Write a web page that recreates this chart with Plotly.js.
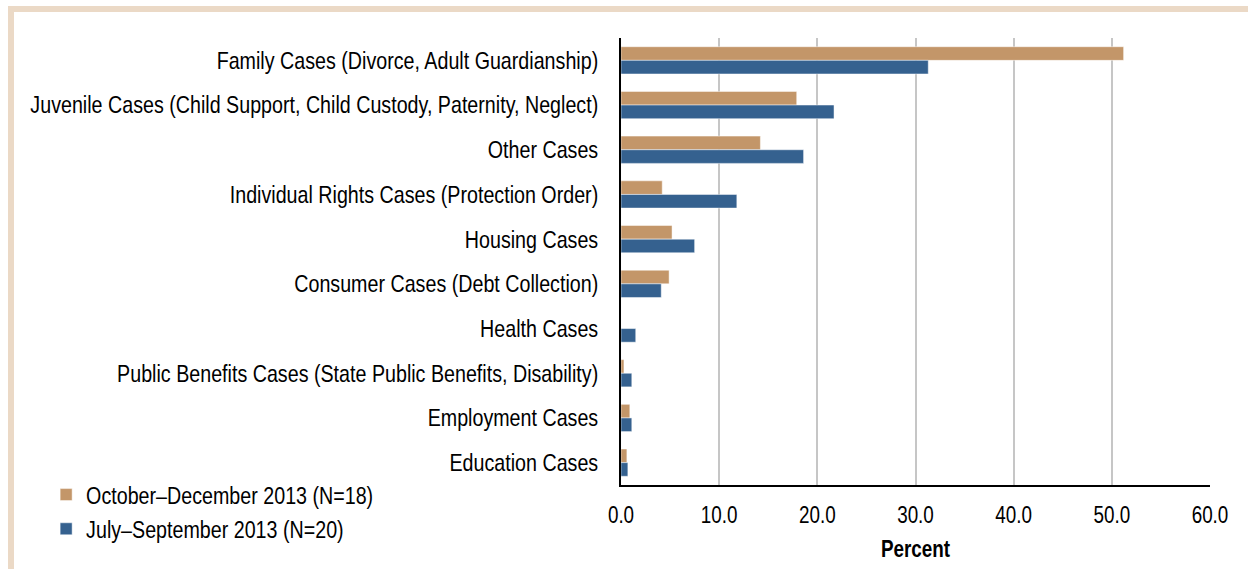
<!DOCTYPE html>
<html>
<head>
<meta charset="utf-8">
<script src="https://cdn.plot.ly/plotly-3.0.1.min.js"></script>
<style>
  html, body { margin: 0; padding: 0; background: #fff; overflow: hidden; }
  #chart { position: absolute; left: 0; top: 0; width: 1248px; height: 569px; }
  #frame { position: absolute; left: 8px; top: 6px; width: 1400px; height: 700px;
           border-left: 6px solid #ebd9c6; border-top: 6px solid #ebd9c6; pointer-events: none; }
</style>
</head>
<body>
<div id="chart"></div>
<div id="frame"></div>
<script>
const categories = [
  "Family Cases (Divorce, Adult Guardianship)",
  "Juvenile Cases (Child Support, Child Custody, Paternity, Neglect)",
  "Other Cases",
  "Individual Rights Cases (Protection Order)",
  "Housing Cases",
  "Consumer Cases (Debt Collection)",
  "Health Cases",
  "Public Benefits Cases (State Public Benefits, Disability)",
  "Employment Cases",
  "Education Cases"
];
const octDec2013 = [51.2, 17.9, 14.2, 4.2, 5.2, 4.9, 0.0, 0.3, 0.9, 0.6];
const julSep2013 = [31.3, 21.7, 18.6, 11.8, 7.5, 4.1, 1.5, 1.1, 1.1, 0.7];
const seriesNames = ["October\u2013December 2013 (N=18)", "July\u2013September 2013 (N=20)"];
const xTickVals = [0, 10, 20, 30, 40, 50, 60];
const xTickText = ["0.0", "10.0", "20.0", "30.0", "40.0", "50.0", "60.0"];

const FONT = "'Liberation Sans', Arial, sans-serif";
const FS = 24;
const FS_TICK = 23;
const NARROW = 0.82;

const traces = [
  { type: "bar", orientation: "h", name: seriesNames[0], y: categories, x: octDec2013,
    marker: { color: "#c39669", line: { color: "rgba(255,255,255,0.6)", width: 0.8 } },
    legendgroup: "a", hoverinfo: "x+y" },
  { type: "bar", orientation: "h", name: seriesNames[1], y: categories, x: julSep2013,
    marker: { color: "#35618f", line: { color: "rgba(255,255,255,0.6)", width: 0.8 } },
    legendgroup: "b", hoverinfo: "x+y" }
];

const layout = {
  width: 1248, height: 569,
  margin: { l: 621, r: 38, t: 38, b: 84 },
  paper_bgcolor: "#fff", plot_bgcolor: "#fff",
  font: { family: FONT, size: FS, color: "#000" },
  barmode: "group", bargap: 0.39, bargroupgap: 0,
  showlegend: true,
  legend: { x: -0.976, xanchor: "left", y: 0.028, yanchor: "top",
            traceorder: "grouped", tracegroupgap: 0,
            font: { family: FONT, size: FS, color: "#000" },
            bgcolor: "rgba(0,0,0,0)" },
  xaxis: {
    range: [0, 60], tickvals: xTickVals, ticktext: xTickText,
    showgrid: true, gridcolor: "#c6c6c6", gridwidth: 2,
    zeroline: false, showline: true, linecolor: "#000", linewidth: 2,
    ticks: "", ticklabelstandoff: 8,
    tickfont: { family: FONT, size: FS_TICK, color: "#000" },
    title: { text: "<b>Percent</b>", font: { family: FONT, size: FS_TICK, color: "#000" }, standoff: 14 },
    fixedrange: true
  },
  yaxis: {
    type: "category", autorange: "reversed",
    showgrid: false, zeroline: false, showline: true, linecolor: "#000", linewidth: 2,
    ticks: "", ticklabelstandoff: 16,
    tickfont: { family: FONT, size: FS, color: "#000" },
    fixedrange: true
  }
};

Plotly.newPlot("chart", traces, layout, { displayModeBar: false, staticPlot: true }).then(function () {
  // Emulate the narrow (condensed) typeface of the original by compressing text horizontally
  document.querySelectorAll("#chart svg text").forEach(function (t) {
    const ax = parseFloat(t.getAttribute("x") || "0") || 0;
    const tr = t.getAttribute("transform") || "";
    t.setAttribute("transform", tr + " translate(" + ax + ",0) scale(" + NARROW + ",1) translate(" + (-ax) + ",0)");
  });
});
</script>
</body>
</html>
